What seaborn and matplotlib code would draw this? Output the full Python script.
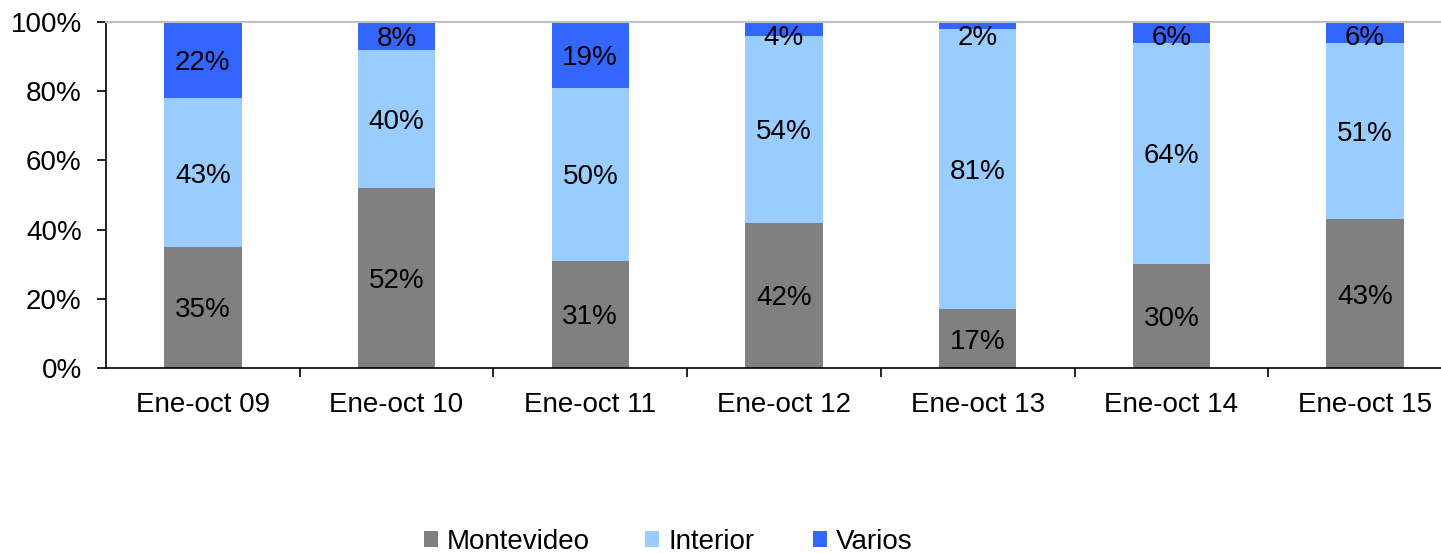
import matplotlib
matplotlib.use("Agg")
import matplotlib.pyplot as plt
import matplotlib.transforms as mtransforms
import seaborn as sns
import numpy as np
import pandas as pd
from matplotlib.patches import Patch

categories = ["Ene-oct 09", "Ene-oct 10", "Ene-oct 11", "Ene-oct 12", "Ene-oct 13", "Ene-oct 14", "Ene-oct 15"]
montevideo = [35, 52, 31, 42, 17, 30, 43]
interior = [43, 40, 50, 54, 81, 64, 51]
varios = [22, 8, 19, 4, 2, 6, 6]
series_names = ["Montevideo", "Interior", "Varios"]
colors = ["#808080", "#99CCFF", "#3366FF"]

sns.set_style("white")
plt.rcParams["font.family"] = ["Liberation Sans", "DejaVu Sans"]
plt.rcParams["text.color"] = "black"
plt.rcParams["xtick.color"] = "black"
plt.rcParams["ytick.color"] = "black"
plt.rcParams["axes.labelcolor"] = "black"

df = pd.DataFrame({"cat": categories, "Montevideo": montevideo,
                   "Interior": interior, "Varios": varios})
df["c1"] = df["Montevideo"]
df["c2"] = df["Montevideo"] + df["Interior"]
df["c3"] = df["c2"] + df["Varios"]

fig = plt.figure(figsize=(14.41, 5.53), dpi=100)
W, H = 1441, 553
left, right, top, bottom = 106, 106 + 7 * 193.7, 22, 368
ax = fig.add_axes([left / W, 1 - bottom / H, (right - left) / W, (bottom - top) / H])

for col, c in zip(["c3", "c2", "c1"], colors[::-1]):
    sns.barplot(data=df, x="cat", y=col, color=c, width=0.4, ax=ax,
                saturation=1, edgecolor="none", linewidth=0, order=categories)

ax.set_xlim(-0.5, len(categories) - 0.5)
ax.set_ylim(0, 100)

# segment labels (centered, nudged slightly down, kept inside the plot area)
px_per_unit = (bottom - top) / 100.0
min_from_top = 13 / px_per_unit
shift = mtransforms.offset_copy(ax.transData, fig=fig, x=0, y=-3, units="dots")
for i in range(len(categories)):
    b = 0
    for vals in (montevideo, interior, varios):
        v = vals[i]
        yc = min(b + v / 2, 100 - min_from_top)
        ax.text(i, yc, f"{v}%", ha="center", va="center", fontsize=20,
                color="black", transform=shift)
        b += v

ax.set_yticks(np.arange(0, 101, 20))
ax.set_yticklabels([f"{t}%" for t in range(0, 101, 20)], fontsize=20)
ax.set_xticks(range(len(categories)))
ax.set_xticklabels(categories, fontsize=20)
ax.tick_params(axis="x", length=0, pad=17, labelcolor="black")
ax.tick_params(axis="y", length=6.5, width=1.2, direction="out", pad=11, left=True,
               labelcolor="black")
ax.set_xticks(np.arange(0.5, len(categories) - 0.5, 1), minor=True)
ax.tick_params(axis="x", which="minor", length=6.5, width=1.2, direction="out", bottom=True)
ax.set_xlabel("")
ax.set_ylabel("")

for s in ["left", "bottom"]:
    ax.spines[s].set_color("black")
    ax.spines[s].set_linewidth(1.2)
ax.spines["top"].set_color("#C0C0C0")
ax.spines["top"].set_linewidth(1.5)
ax.spines["right"].set_visible(False)

legend_x = [424, 645, 813]
for name, c, xpx in zip(series_names, colors, legend_x):
    leg = fig.legend([Patch(facecolor=c, edgecolor="none")], [name], loc="center left",
                     bbox_to_anchor=(xpx / W, 1 - 542 / H), frameon=False, fontsize=20,
                     handlelength=0.5, handleheight=0.5, handletextpad=0.33,
                     borderpad=0, borderaxespad=0, labelcolor="black")

fig.savefig("out.png", dpi=100)
